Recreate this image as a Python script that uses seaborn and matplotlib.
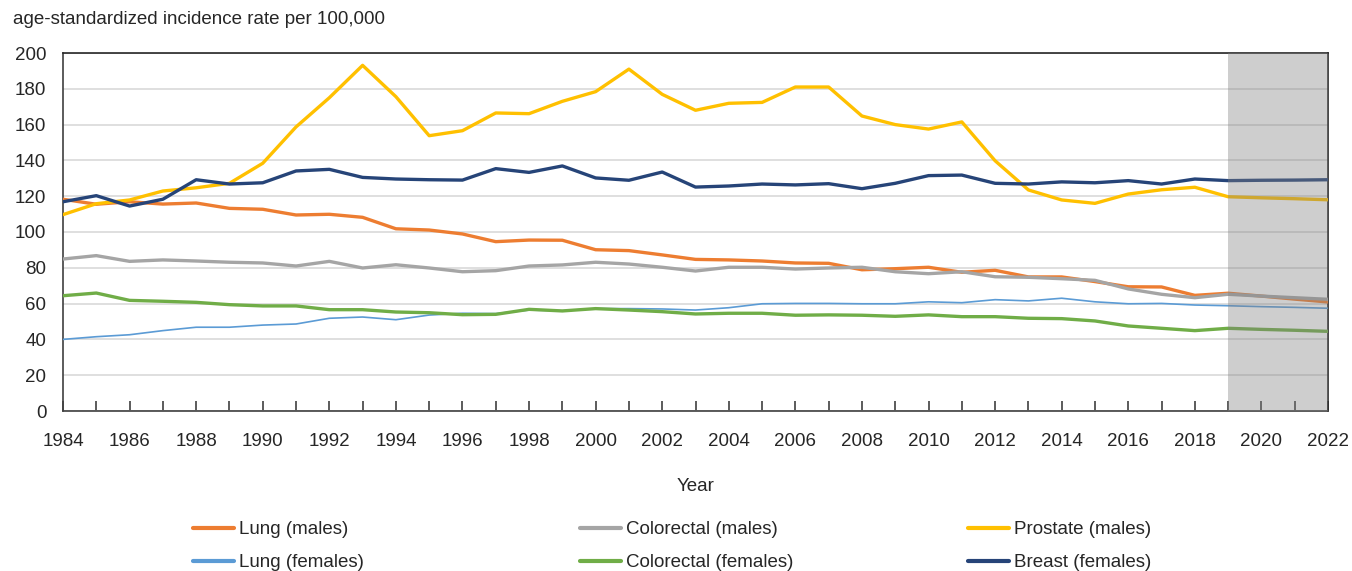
import matplotlib
matplotlib.use("Agg")
import matplotlib.pyplot as plt
import seaborn as sns
import pandas as pd
from matplotlib.lines import Line2D

years = list(range(1984, 2023))

lung_males = [118.3, 115.5, 116.9, 115.6, 116.2, 113.2, 112.7, 109.5, 109.9, 108.2,
              101.8, 101.1, 98.9, 94.6, 95.5, 95.4, 90.1, 89.6, 87.2, 84.7,
              84.4, 83.8, 82.7, 82.5, 78.9, 79.5, 80.3, 77.5, 78.6, 74.9,
              74.9, 72.3, 69.4, 69.3, 64.6, 65.8, 64.2, 62.5, 60.9]
colorectal_males = [84.9, 86.8, 83.6, 84.4, 83.8, 83.1, 82.7, 81.0, 83.6, 79.9,
                    81.7, 79.9, 77.8, 78.4, 81.0, 81.6, 83.1, 82.1, 80.3, 78.2,
                    80.3, 80.3, 79.3, 79.9, 80.3, 77.8, 76.7, 77.8, 75.0, 74.7,
                    73.9, 73.0, 68.2, 65.2, 63.3, 65.2, 64.2, 63.3, 62.4]
prostate_males = [109.7, 115.8, 117.9, 122.9, 124.7, 127.2, 138.4, 158.7, 175.0, 193.1,
                  175.6, 153.8, 156.6, 166.5, 166.1, 173.0, 178.4, 191.0, 176.9, 168.0,
                  171.9, 172.4, 181.0, 181.0, 164.8, 160.0, 157.5, 161.5, 139.8, 123.5,
                  117.9, 116.0, 121.2, 123.6, 125.0, 119.7, 119.1, 118.6, 118.0]
lung_females = [40.0, 41.5, 42.6, 44.9, 46.8, 46.8, 48.0, 48.6, 51.8, 52.5,
                51.0, 53.6, 54.6, 54.4, 56.4, 56.0, 57.2, 57.2, 57.0, 56.4,
                57.7, 59.9, 60.1, 60.1, 59.9, 59.9, 61.0, 60.5, 62.2, 61.5,
                63.0, 61.0, 59.9, 60.1, 59.2, 58.8, 58.3, 57.9, 57.4]
colorectal_females = [64.4, 65.9, 61.8, 61.3, 60.7, 59.4, 58.7, 58.7, 56.6, 56.6,
                      55.3, 54.9, 53.8, 54.0, 56.8, 55.9, 57.2, 56.4, 55.5, 54.2,
                      54.6, 54.6, 53.5, 53.7, 53.5, 52.9, 53.7, 52.7, 52.7, 51.8,
                      51.6, 50.3, 47.5, 46.2, 44.9, 46.2, 45.6, 45.1, 44.5]
breast_females = [116.9, 120.3, 114.5, 118.3, 129.2, 126.8, 127.5, 134.1, 135.0, 130.5,
                  129.6, 129.2, 129.0, 135.4, 133.3, 136.9, 130.2, 128.9, 133.5, 125.1,
                  125.7, 126.8, 126.3, 127.0, 124.2, 127.2, 131.5, 131.8, 127.2, 126.8,
                  128.0, 127.5, 128.7, 126.8, 129.6, 128.7, 128.9, 129.0, 129.2]

series_names = ["Lung (males)", "Colorectal (males)", "Prostate (males)",
                "Lung (females)", "Colorectal (females)", "Breast (females)"]
series_values = [lung_males, colorectal_males, prostate_males,
                 lung_females, colorectal_females, breast_females]
colors = ["#ED7D31", "#A5A5A5", "#FFC000", "#5B9BD5", "#70AD47", "#264478"]
widths = [2.4, 2.4, 2.4, 1.2, 2.4, 2.4]

projection_start = 2019
xtick_labels = list(range(1984, 2023, 2))
yticks = list(range(0, 201, 20))

rows = []
for name, vals in zip(series_names, series_values):
    for y, v in zip(years, vals):
        rows.append({"Year": y, "rate": v, "series": name})
df = pd.DataFrame(rows)

sns.set_theme(style="white")
FONT = ["Liberation Sans", "DejaVu Sans"]
plt.rcParams["font.family"] = FONT
TXT = "#262626"
FS = 13.5

fig = plt.figure(figsize=(13.52, 5.71), dpi=100)
ax = fig.add_axes([63 / 1352, 1 - 411 / 571, (1328 - 63) / 1352, (411 - 53) / 571])

for name, c, lw in zip(series_names, colors, widths):
    sns.lineplot(data=df[df["series"] == name], x="Year", y="rate", color=c,
                 linewidth=lw, ax=ax, legend=False, zorder=3)

ax.axvspan(projection_start, years[-1], color="#808080", alpha=0.38, lw=0, zorder=4)

ax.set_xlim(years[0], years[-1])
ax.set_ylim(0, 200)
ax.set_yticks(yticks)
ax.set_xticks(years, minor=True)
ax.set_xticks(xtick_labels)
ax.set_xticklabels([str(v) for v in xtick_labels])
ax.yaxis.grid(True, color="#DCDCDC", lw=1.3, zorder=0)
ax.xaxis.grid(False)
ax.set_axisbelow(True)
ax.tick_params(axis="x", which="both", bottom=True, direction="in", length=7, width=1.2,
               color="#404040", labelsize=FS, labelcolor=TXT, pad=16)
ax.tick_params(axis="y", left=False, length=0, labelsize=FS, labelcolor=TXT, pad=12)
for s in ax.spines.values():
    s.set_visible(True)
    s.set_color("#262626")
    s.set_linewidth(1.2)
ax.spines["left"].set_color("#404040")
ax.spines["bottom"].set_color("#404040")

ax.set_xlabel("Year", fontsize=FS, color=TXT, labelpad=20)
ax.set_ylabel("")
fig.text(13 / 1352, 1 - 20 / 571, "age-standardized incidence rate per 100,000",
         fontsize=FS, color=TXT, va="center", ha="left")

# legend: three columns placed evenly like the original
col_x = [193, 580, 968]
for ci in range(3):
    idx = [ci, ci + 3]
    handles = [Line2D([], [], color=colors[i], lw=3) for i in idx]
    labels = [series_names[i] for i in idx]
    leg = fig.legend(handles, labels, loc="upper left",
                     bbox_to_anchor=(col_x[ci] / 1352, 1 - 521 / 571),
                     frameon=False, fontsize=FS, handlelength=2.2,
                     handletextpad=0.25, labelspacing=0.85, borderaxespad=0,
                     borderpad=0, labelcolor=TXT)

fig.savefig("out.png", dpi=100)
